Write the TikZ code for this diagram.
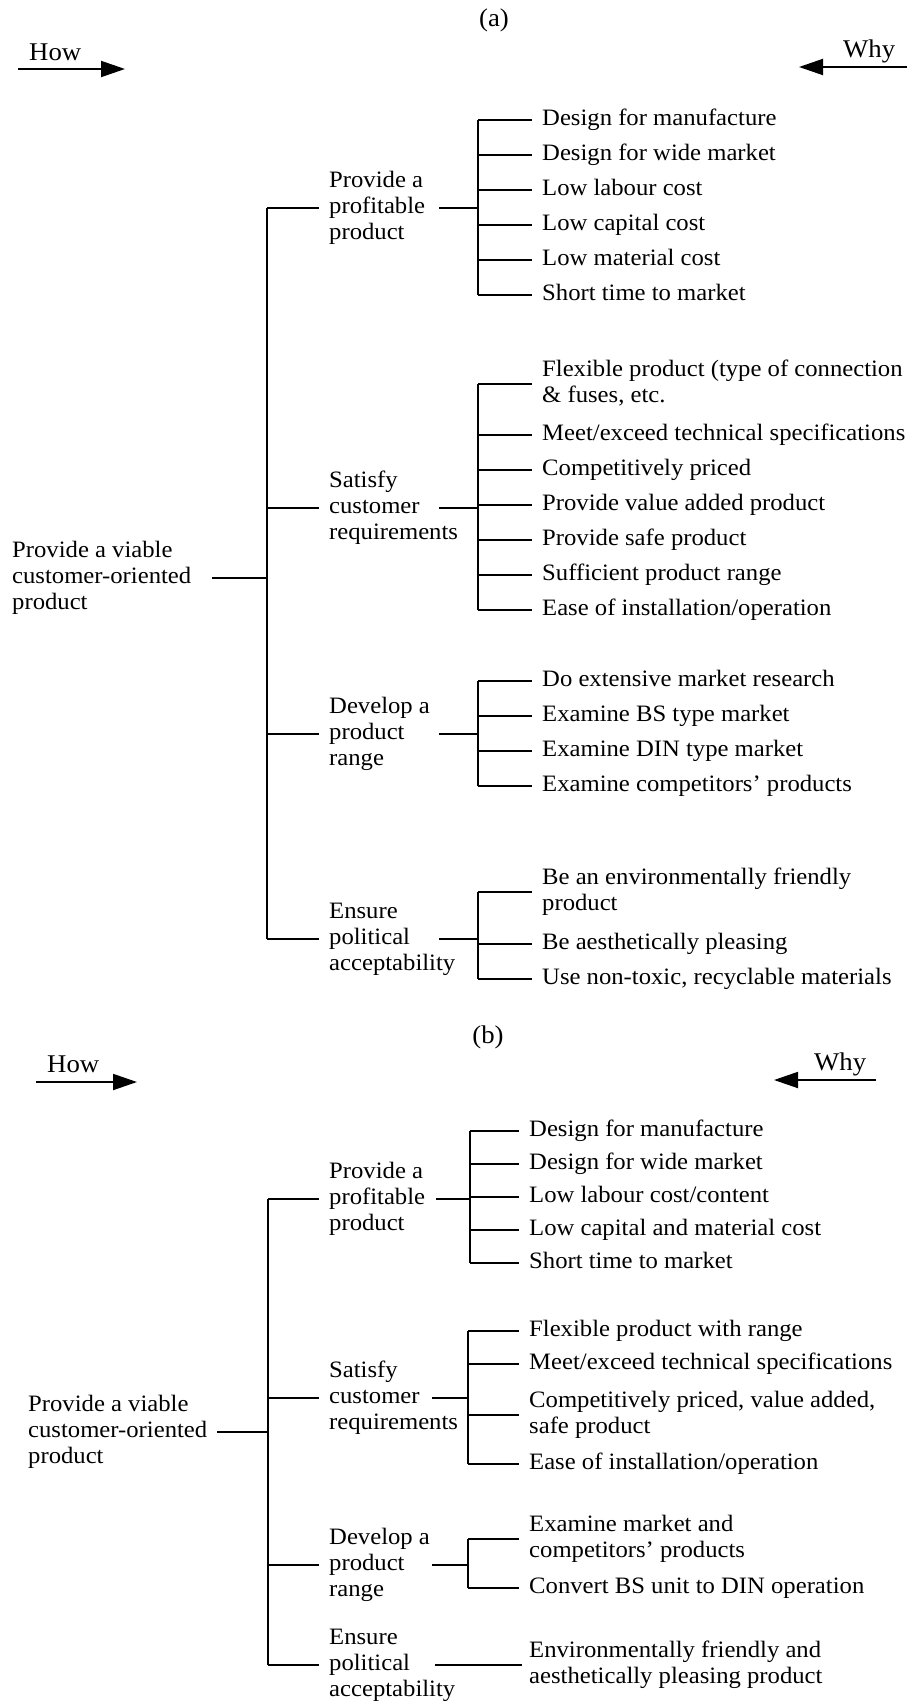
\documentclass[tikz,border=0pt]{standalone}
\usepackage{fontspec}
\setmainfont{Liberation Serif}[FakeStretch=1.05]
\usetikzlibrary{arrows.meta}
\begin{document}
\begin{tikzpicture}[x=1pt,y=-1pt,
  every node/.style={inner sep=0pt, font=\fontsize{23.5}{26}\selectfont},
  big/.style={font=\fontsize{25.5}{28}\selectfont},
  txt/.style={anchor=west, align=left},
  leaf/.style={anchor=west, text height=18.2pt, text depth=7.8pt},
  ln/.style={line width=2pt},
  arr/.style={line width=1.9pt, -{Triangle[length=24pt,width=16pt]}}]
\useasboundingbox[fill=white] (0,0) rectangle (909,1702);

% ===================== (a) =====================
\node[anchor=base, big] (ta) at (494,27) {(a)};
\node[anchor=base west, big] (howa) at (29,60) {How};
\coordinate (howa1) at (18,69); \coordinate (howa2) at (125,69);
\draw[arr] (howa1) -- (howa2);
\node[anchor=base west, big] (whya) at (843,58) {Why};
\coordinate (whya1) at (907,67); \coordinate (whya2) at (799,67);
\draw[arr] (whya1) -- (whya2);

\node[txt] (ra) at (12,578) {\strut Provide a viable\\customer-oriented\\product\strut};
\coordinate (ras) at (212,578);
\coordinate (batop) at (267,208); \coordinate (babot) at (267,939);
\draw[ln] (ras) -- (ras -| batop);
\draw[ln] (batop) -- (babot);

\node[txt] (a1) at (329,208) {\strut Provide a\\profitable\\product\strut};
\node[txt] (a2) at (329,508) {\strut Satisfy\\customer\\requirements\strut};
\node[txt] (a3) at (329,734) {\strut Develop a\\product\\range\strut};
\node[txt] (a4) at (329,939) {\strut Ensure\\political\\acceptability\strut};
\foreach \n in {a1,a2,a3,a4}{
  \draw[ln] (\n.west -| batop) -- ([xshift=-10pt]\n.west);
  \draw[ln] ([xshift=110pt]\n.west) -- ([xshift=149pt]\n.west);
}

% leaves A1
\node[leaf] (a11) at (542,120) {Design for manufacture};
\node[leaf] (a12) at (542,155) {Design for wide market};
\node[leaf] (a13) at (542,190) {Low labour cost};
\node[leaf] (a14) at (542,225) {Low capital cost};
\node[leaf] (a15) at (542,260) {Low material cost};
\node[leaf] (a16) at (542,295) {Short time to market};
\coordinate (a1bus) at (478,0);
\draw[ln] (a11.west -| a1bus) -- (a16.west -| a1bus);
\foreach \n in {a11,a12,a13,a14,a15,a16}{
  \draw[ln] (\n.west -| a1bus) -- ([xshift=-10pt]\n.west);
}

% leaves A2
\node[txt] (a21) at (542,384) {\strut Flexible product (type of connection\\\&~fuses, etc.\strut};
\node[leaf] (a22) at (542,435) {Meet/exceed technical specifications};
\node[leaf] (a23) at (542,470) {Competitively priced};
\node[leaf] (a24) at (542,505) {Provide value added product};
\node[leaf] (a25) at (542,540) {Provide safe product};
\node[leaf] (a26) at (542,575) {Sufficient product range};
\node[leaf] (a27) at (542,610) {Ease of installation/operation};
\draw[ln] (a21.west -| a1bus) -- (a27.west -| a1bus);
\foreach \n in {a21,a22,a23,a24,a25,a26,a27}{
  \draw[ln] (\n.west -| a1bus) -- ([xshift=-10pt]\n.west);
}

% leaves A3
\node[leaf] (a31) at (542,681) {Do extensive market research};
\node[leaf] (a32) at (542,716) {Examine BS type market};
\node[leaf] (a33) at (542,751) {Examine DIN type market};
\node[leaf] (a34) at (542,786) {Examine competitors’ products};
\draw[ln] (a31.west -| a1bus) -- (a34.west -| a1bus);
\foreach \n in {a31,a32,a33,a34}{
  \draw[ln] (\n.west -| a1bus) -- ([xshift=-10pt]\n.west);
}

% leaves A4
\node[txt] (a41) at (542,892) {\strut Be an environmentally friendly\\product\strut};
\node[leaf] (a42) at (542,944) {Be aesthetically pleasing};
\node[leaf] (a43) at (542,979) {Use non-toxic, recyclable materials};
\draw[ln] (a41.west -| a1bus) -- (a43.west -| a1bus);
\foreach \n in {a41,a42,a43}{
  \draw[ln] (\n.west -| a1bus) -- ([xshift=-10pt]\n.west);
}

% ===================== (b) =====================
\node[anchor=base, big] (tb) at (488,1043) {(b)};
\node[anchor=base west, big] (howb) at (47,1072) {How};
\coordinate (howb1) at (36,1082); \coordinate (howb2) at (137,1082);
\draw[arr] (howb1) -- (howb2);
\node[anchor=base west, big] (whyb) at (814,1070) {Why};
\coordinate (whyb1) at (876,1080); \coordinate (whyb2) at (774,1080);
\draw[arr] (whyb1) -- (whyb2);

\node[txt] (rb) at (28,1432) {\strut Provide a viable\\customer-oriented\\product\strut};
\coordinate (rbs) at (217,1432);
\coordinate (bbtop) at (268,1199); \coordinate (bbbot) at (268,1665);
\draw[ln] (rbs) -- (rbs -| bbtop);
\draw[ln] (bbtop) -- (bbbot);

\node[txt] (b1) at (329,1199) {\strut Provide a\\profitable\\product\strut};
\node[txt] (b2) at (329,1398) {\strut Satisfy\\customer\\requirements\strut};
\node[txt] (b3) at (329,1565) {\strut Develop a\\product\\range\strut};
\node[txt] (b4) at (329,1665) {\strut Ensure\\political\\acceptability\strut};
\foreach \n in {b1,b2,b3,b4}{
  \draw[ln] (\n.west -| bbtop) -- ([xshift=-10pt]\n.west);
}
\coordinate (b1bus) at (470,0);
\coordinate (b2bus) at (468,0);
\draw[ln] ([xshift=107pt]b1.west) -- (b1.west -| b1bus);
\draw[ln] ([xshift=103pt]b2.west) -- (b2.west -| b2bus);
\draw[ln] ([xshift=103pt]b3.west) -- (b3.west -| b2bus);

% leaves B1
\node[leaf] (b11) at (529,1131) {Design for manufacture};
\node[leaf] (b12) at (529,1164) {Design for wide market};
\node[leaf] (b13) at (529,1197) {Low labour cost/content};
\node[leaf] (b14) at (529,1230) {Low capital and material cost};
\node[leaf] (b15) at (529,1263) {Short time to market};
\draw[ln] (b11.west -| b1bus) -- (b15.west -| b1bus);
\foreach \n in {b11,b12,b13,b14,b15}{
  \draw[ln] (\n.west -| b1bus) -- ([xshift=-10pt]\n.west);
}

% leaves B2
\node[leaf] (b21) at (529,1331) {Flexible product with range};
\node[leaf] (b22) at (529,1364) {Meet/exceed technical specifications};
\node[txt] (b23) at (529,1415) {\strut Competitively priced, value added,\\safe product\strut};
\node[leaf] (b24) at (529,1464) {Ease of installation/operation};
\draw[ln] (b21.west -| b2bus) -- (b24.west -| b2bus);
\foreach \n in {b21,b22,b23,b24}{
  \draw[ln] (\n.west -| b2bus) -- ([xshift=-10pt]\n.west);
}

% leaves B3
\node[txt] (b31) at (529,1539) {\strut Examine market and\\competitors’ products\strut};
\node[leaf] (b32) at (529,1588) {Convert BS unit to DIN operation};
\draw[ln] (b31.west -| b2bus) -- (b32.west -| b2bus);
\foreach \n in {b31,b32}{
  \draw[ln] (\n.west -| b2bus) -- ([xshift=-10pt]\n.west);
}

% leaf B4
\node[txt] (b41) at (529,1665) {\strut Environmentally friendly and\\aesthetically pleasing product\strut};
\draw[ln] ([xshift=106pt]b4.west) -- ([xshift=-7pt]b41.west);
\end{tikzpicture}
\end{document}
